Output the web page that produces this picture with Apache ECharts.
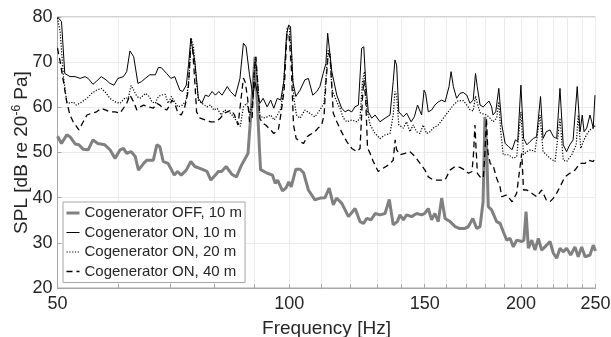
<!DOCTYPE html>
<html>
<head>
<meta charset="utf-8">
<script src="https://cdn.jsdelivr.net/npm/echarts@6/dist/echarts.min.js"></script>
<style>html,body{margin:0;padding:0;background:#fff;}#c{width:611px;height:337px;}</style>
</head>
<body>
<div id="c"></div>
<script>
// Tick values
const xTickValues = [50,60,70,80,90,100,110,120,130,140,150,160,170,180,190,200,210,220,230,240,250];
const xLabelValues = [50,100,150,200,250];
const seriesNames = ['Cogenerator OFF, 10 m','Cogenerator ON, 10 m','Cogenerator ON, 20 m','Cogenerator ON, 40 m'];

// [frequency Hz, SPL dB]
const off10m = [[50.0,53.6],[50.6,52.0],[51.4,53.9],[51.9,53.5],[52.7,51.9],[53.3,51.7],[54.0,50.7],[54.8,50.6],[55.6,52.8],[56.4,52.0],[57.6,51.7],[58.5,50.6],[59.4,48.7],[60.3,50.6],[60.9,50.9],[61.5,49.8],[62.3,50.2],[63.1,49.1],[63.7,46.1],[64.7,47.6],[65.3,48.3],[66.6,48.3],[67.3,51.7],[67.9,51.3],[68.6,48.0],[69.6,47.6],[70.9,45.0],[71.6,45.8],[72.4,45.0],[73.5,46.1],[74.5,48.0],[75.4,46.9],[77.0,46.3],[78.2,45.8],[79.1,43.9],[80.2,45.0],[80.9,45.8],[81.7,45.8],[82.8,46.9],[84.2,45.2],[85.4,44.6],[86.7,47.2],[88.4,49.8],[90.3,71.2],[91.5,50.5],[91.8,46.2],[92.2,45.8],[93.7,45.4],[95.1,45.0],[95.9,43.2],[96.6,43.9],[98.0,41.5],[99.0,42.1],[99.9,43.5],[100.6,42.4],[102.0,46.3],[103.3,46.3],[104.4,45.5],[105.9,41.7],[108.0,39.5],[109.7,39.9],[111.3,40.0],[112.7,42.1],[114.1,38.4],[115.2,39.9],[117.0,38.8],[119.4,35.8],[121.8,37.6],[123.6,34.7],[124.9,34.3],[126.1,35.4],[127.7,35.1],[129.4,36.5],[131.2,36.2],[133.2,36.5],[134.9,39.6],[136.5,34.0],[138.2,34.7],[139.3,36.2],[140.7,35.1],[142.1,36.2],[144.2,35.8],[146.4,36.5],[148.6,36.2],[150.0,36.5],[151.6,37.6],[153.1,35.1],[154.6,36.5],[156.2,34.7],[157.8,39.9],[159.4,35.4],[161.8,34.7],[164.3,33.6],[166.3,33.2],[169.2,33.2],[170.9,33.6],[173.2,35.4],[175.2,33.2],[177.0,33.6],[178.6,39.1],[179.6,57.9],[180.6,50.0],[181.4,38.0],[183.2,37.3],[186.0,34.7],[187.9,34.3],[189.7,32.5],[191.7,30.6],[193.6,31.0],[195.5,29.1],[197.5,30.6],[200.5,30.3],[201.8,30.6],[203.1,36.9],[204.5,28.8],[206.6,30.6],[208.6,28.4],[210.7,31.0],[212.8,28.4],[214.9,29.1],[218.2,30.3],[220.4,27.7],[222.6,26.6],[224.8,28.8],[227.0,28.0],[229.3,28.8],[232.1,27.3],[235.1,29.1],[237.4,26.9],[239.9,29.1],[242.3,26.9],[245.9,27.3],[248.3,29.5],[250.0,28.2]];

const on10m = [[50.0,80.0],[50.6,79.0],[51.1,67.5],[51.9,66.8],[52.7,66.8],[53.5,66.4],[54.3,66.8],[54.8,66.4],[55.6,65.1],[56.2,65.8],[57.0,66.8],[57.8,66.1],[58.5,65.3],[59.2,64.9],[59.9,66.4],[60.9,66.8],[61.5,67.9],[62.1,72.5],[62.8,71.2],[63.6,65.3],[64.3,65.7],[65.0,66.4],[65.9,67.2],[67.0,67.2],[67.6,68.8],[68.2,68.8],[69.3,67.5],[70.2,66.4],[71.0,66.8],[72.1,63.8],[72.7,63.5],[73.5,64.9],[74.0,69.4],[74.5,75.3],[75.4,70.1],[76.2,62.0],[77.0,60.9],[77.8,62.7],[78.6,62.4],[79.4,63.5],[80.2,62.7],[81.0,63.5],[81.8,62.7],[83.1,64.6],[83.9,63.5],[85.1,62.4],[86.3,66.4],[87.2,74.2],[87.9,73.4],[88.8,67.2],[89.7,62.7],[90.3,65.5],[91.0,63.0],[91.6,60.9],[92.5,62.0],[93.6,60.1],[94.6,61.6],[95.5,59.8],[96.5,62.0],[97.5,61.6],[98.4,65.7],[99.2,76.0],[99.8,78.2],[100.4,77.9],[101.1,65.7],[102.0,62.4],[103.3,63.8],[104.8,66.1],[105.9,66.4],[107.3,62.7],[108.6,63.5],[109.6,64.6],[110.7,67.5],[111.6,69.7],[112.2,76.4],[112.7,76.4],[113.6,67.9],[115.3,62.7],[117.0,59.8],[118.2,59.0],[119.3,59.4],[120.6,59.0],[121.7,60.1],[123.0,60.5],[124.2,73.1],[125.0,73.4],[125.7,65.7],[126.7,59.0],[128.0,57.6],[129.3,58.3],[131.2,56.8],[133.2,57.6],[135.2,58.3],[136.5,65.7],[137.2,70.5],[137.9,69.4],[138.8,59.0],[140.7,57.9],[142.1,58.7],[144.0,56.8],[145.4,57.9],[146.8,60.5],[148.6,58.3],[149.7,63.8],[150.4,63.1],[151.6,59.0],[153.1,59.4],[154.6,60.5],[156.2,61.2],[157.8,61.6],[159.4,61.2],[161.3,64.6],[162.3,67.9],[163.4,64.6],[165.0,62.0],[166.7,63.1],[168.3,63.3],[170.1,62.7],[171.7,60.9],[173.4,61.6],[174.6,67.5],[175.5,64.6],[177.0,60.5],[178.7,60.1],[180.5,60.9],[181.8,61.4],[183.2,60.1],[184.0,58.3],[185.5,59.0],[187.2,64.2],[188.9,56.1],[190.8,52.0],[192.8,51.3],[194.8,50.6],[196.7,52.8],[198.1,52.4],[200.0,64.9],[201.6,53.1],[203.6,51.7],[205.5,52.4],[207.6,53.1],[209.6,53.5],[212.1,62.4],[213.7,53.1],[215.8,54.6],[218.2,55.0],[220.4,53.5],[222.6,53.1],[224.8,64.2],[227.0,51.7],[229.3,50.2],[231.5,51.7],[233.8,52.8],[236.7,64.6],[238.7,54.6],[240.3,58.3],[241.6,54.6],[243.5,55.4],[245.9,58.3],[247.2,56.8],[248.3,55.4],[249.6,62.7]];

const on20m = [[50.0,79.8],[50.4,76.7],[50.9,66.8],[51.4,61.2],[51.9,60.9],[52.4,61.2],[52.9,60.5],[53.7,61.1],[54.6,62.0],[55.4,63.1],[56.2,63.8],[57.0,64.2],[57.6,63.5],[58.5,62.0],[59.4,61.2],[60.3,60.9],[61.2,62.1],[61.8,62.0],[62.3,64.8],[62.8,63.8],[63.4,62.4],[64.0,62.0],[64.7,62.7],[65.1,63.1],[65.8,62.4],[66.3,61.2],[67.0,60.9],[67.6,62.4],[68.2,62.7],[69.0,62.9],[69.6,60.9],[70.3,62.4],[71.0,61.2],[71.7,60.1],[72.7,60.5],[73.5,61.6],[74.1,66.4],[74.6,75.3],[75.1,73.4],[75.8,65.7],[76.2,61.6],[77.0,60.9],[78.2,60.1],[79.0,60.5],[79.8,59.4],[80.6,59.8],[81.6,58.3],[82.4,59.4],[83.5,59.0],[84.3,58.3],[85.6,56.8],[86.4,55.8],[87.2,60.1],[88.1,60.9],[88.9,58.3],[89.8,62.0],[90.3,70.9],[91.0,65.7],[91.6,58.3],[92.5,57.6],[93.7,57.9],[94.6,58.3],[95.6,57.2],[96.5,58.3],[97.6,59.8],[98.4,65.7],[99.4,77.5],[100.0,77.9],[100.7,71.6],[101.4,62.0],[102.2,58.3],[103.3,57.6],[104.8,59.4],[106.3,58.7],[108.0,57.9],[109.6,59.4],[111.0,60.9],[111.9,69.0],[112.4,72.7],[113.0,72.0],[113.6,64.0],[115.3,61.2],[116.4,59.8],[117.6,57.6],[118.8,56.8],[120.6,57.2],[122.4,56.8],[123.6,57.6],[124.5,65.7],[125.2,67.9],[126.1,59.8],[127.4,56.1],[129.3,54.2],[131.2,53.1],[133.2,53.9],[135.2,54.2],[136.5,58.3],[137.2,63.5],[137.9,62.7],[138.8,56.1],[140.7,55.4],[142.1,56.8],[143.5,54.6],[144.9,56.1],[146.4,54.6],[147.9,54.2],[149.3,56.1],[150.8,54.2],[152.4,54.6],[153.9,55.4],[156.2,56.1],[158.6,57.6],[160.9,59.0],[163.4,60.5],[165.8,61.5],[168.3,61.5],[170.1,60.5],[171.7,59.5],[173.4,59.2],[174.6,62.5],[175.5,61.0],[177.0,58.8],[180.5,58.3],[182.4,57.6],[184.0,56.8],[186.0,57.6],[187.2,61.2],[188.3,54.6],[189.7,49.5],[192.8,49.5],[195.5,48.7],[197.5,49.1],[200.0,59.0],[201.6,49.5],[203.6,50.2],[206.0,50.6],[208.6,50.2],[211.8,58.3],[213.7,50.2],[215.8,49.5],[218.2,48.7],[221.5,48.0],[224.8,57.6],[227.0,48.3],[229.3,48.0],[232.8,49.5],[236.0,51.7],[237.4,58.3],[239.2,50.9],[241.0,52.4],[243.5,54.0],[245.9,55.0],[248.3,55.4],[250.0,56.1]];

const on40m = [[50.0,73.1],[50.4,70.1],[50.9,65.7],[51.4,61.2],[51.9,58.3],[52.4,56.8],[53.3,55.0],[54.0,56.8],[54.6,58.3],[55.4,58.7],[56.2,59.0],[57.0,59.8],[57.8,59.4],[58.5,59.0],[59.4,59.0],[60.3,58.7],[60.9,59.8],[61.5,60.9],[62.1,62.7],[62.8,61.2],[63.4,59.4],[64.0,60.1],[64.7,60.5],[65.6,60.1],[66.6,59.8],[67.3,60.9],[67.9,60.5],[68.6,59.8],[69.3,59.4],[70.0,60.5],[70.4,61.6],[71.0,60.9],[71.7,58.7],[72.4,58.3],[73.1,59.8],[73.9,63.5],[74.4,72.3],[74.9,73.0],[75.4,65.7],[75.8,59.0],[76.6,57.6],[77.8,57.2],[79.0,56.8],[80.2,56.8],[81.4,57.6],[82.2,58.7],[83.1,59.0],[84.1,59.4],[84.9,58.3],[85.8,56.1],[86.4,60.5],[87.2,66.5],[87.7,65.5],[88.3,62.0],[88.8,56.8],[89.5,57.6],[90.1,68.6],[90.5,71.2],[91.0,65.7],[91.6,57.6],[92.3,56.5],[93.2,56.1],[94.6,55.0],[95.5,54.2],[96.8,55.0],[97.5,58.3],[98.5,63.8],[99.3,76.0],[99.9,76.4],[100.6,69.4],[101.3,56.1],[102.1,53.1],[103.3,52.4],[104.4,52.0],[105.5,53.5],[106.3,53.9],[108.0,54.6],[109.0,55.4],[110.2,56.1],[111.0,58.3],[111.6,65.3],[112.4,72.0],[113.0,71.2],[113.6,64.6],[114.1,58.7],[115.3,56.8],[117.0,54.5],[118.8,52.4],[120.6,50.9],[122.4,50.2],[123.6,50.9],[124.5,62.0],[125.0,66.0],[125.7,62.0],[126.4,51.0],[127.4,49.8],[128.6,48.0],[130.5,45.8],[132.4,46.5],[134.5,47.2],[136.5,48.3],[137.3,52.8],[137.9,50.6],[139.3,49.5],[141.4,49.8],[143.5,50.2],[145.7,49.1],[147.9,47.6],[150.1,46.1],[151.6,44.6],[153.9,43.9],[156.2,43.9],[159.4,43.9],[161.8,46.1],[164.2,46.9],[166.7,46.7],[169.2,46.1],[171.0,45.4],[172.8,45.8],[173.6,50.0],[174.3,56.1],[175.0,50.0],[175.6,45.4],[177.0,44.6],[178.7,44.3],[179.6,50.0],[180.4,57.6],[181.2,50.0],[182.5,47.5],[184.0,47.2],[186.0,44.3],[187.9,42.4],[188.9,40.2],[191.7,40.6],[194.8,39.1],[197.5,41.0],[199.5,46.9],[200.5,49.8],[201.6,41.7],[203.6,41.7],[206.6,41.0],[209.6,40.2],[212.8,41.7],[215.8,39.5],[218.2,39.1],[220.4,39.9],[222.6,41.0],[224.8,42.4],[228.1,44.6],[231.5,45.4],[235.1,46.1],[238.7,47.6],[242.3,47.6],[244.7,48.3],[248.3,48.0],[250.0,49.0]];

const FONT = '"Liberation Sans", Arial, sans-serif';
const lineWidths = [3, 1, 1.2, 1.3];
const chart = echarts.init(document.getElementById('c'), null, {renderer: 'canvas'});
chart.setOption({
  animation: false,
  backgroundColor: '#ffffff',
  textStyle: {fontFamily: FONT},
  grid: {left: 57.5, right: 15.5, top: 17, bottom: 49, containLabel: false, outerBoundsMode: 'none',
         show: true, borderColor: '#a6a6a6', borderWidth: 1, backgroundColor: 'transparent'},
  legend: {
    orient: 'vertical', left: 63, top: 202,
    backgroundColor: '#ffffff', borderColor: '#a6a6a6', borderWidth: 1,
    padding: [3, 3, 3, 2], itemGap: 3.5, itemWidth: 13, itemHeight: 12,
    itemStyle: {opacity: 0},
    textStyle: {fontFamily: FONT, fontSize: 15, color: '#262626', lineHeight: 16},
    data: seriesNames.map((n, i) => ({name: n, lineStyle: {width: lineWidths[i]}}))
  },
  xAxis: {
    type: 'log', logBase: 10, min: 50, max: 250,
    name: 'Frequency [Hz]', nameLocation: 'middle', nameGap: 31, nameMoveOverlap: false,
    nameTextStyle: {fontFamily: FONT, fontSize: 19, color: '#262626'},
    axisLine: {show: true, lineStyle: {color: '#a6a6a6'}},
    axisTick: {show: true, inside: true, length: 4, customValues: xTickValues, lineStyle: {color: '#a6a6a6'}},
    axisLabel: {customValues: xLabelValues, fontFamily: FONT, fontSize: 18, color: '#262626', margin: 7, formatter: v => String(Math.round(v))},
    splitLine: {show: true, lineStyle: {color: '#ebebeb', width: 1}},
    minorTick: {show: false}
  },
  yAxis: {
    type: 'value', min: 20, max: 80, interval: 10,
    name: 'SPL [dB re 20{sup|-6} Pa]', nameLocation: 'middle', nameGap: 25, nameRotate: 90, nameMoveOverlap: false,
    nameTextStyle: {fontFamily: FONT, fontSize: 19, color: '#262626', lineHeight: 22,
      rich: {sup: {fontFamily: FONT, fontSize: 12, color: '#262626', verticalAlign: 'top', lineHeight: 12}}},
    axisLine: {show: true, lineStyle: {color: '#a6a6a6'}},
    axisTick: {show: true, inside: true, length: 4, lineStyle: {color: '#a6a6a6'}},
    axisLabel: {fontFamily: FONT, fontSize: 18, color: '#262626', margin: 5},
    splitLine: {show: true, lineStyle: {color: '#ebebeb', width: 1}}
  },
  series: [
    {name: seriesNames[0], type: 'line', data: off10m, symbol: 'none', z: 2,
     lineStyle: {color: '#808080', width: lineWidths[0]}, itemStyle: {color: '#808080', opacity: 0}},
    {name: seriesNames[1], type: 'line', data: on10m, symbol: 'none', z: 3,
     lineStyle: {color: '#000000', width: lineWidths[1]}, itemStyle: {color: '#000000', opacity: 0}},
    {name: seriesNames[2], type: 'line', data: on20m, symbol: 'none', z: 4,
     lineStyle: {color: '#000000', width: lineWidths[2], type: [1.2, 1.6]}, itemStyle: {color: '#000000', opacity: 0}},
    {name: seriesNames[3], type: 'line', data: on40m, symbol: 'none', z: 5,
     lineStyle: {color: '#000000', width: lineWidths[3], type: [6, 4]}, itemStyle: {color: '#000000', opacity: 0}}
  ]
});
</script>
</body>
</html>
